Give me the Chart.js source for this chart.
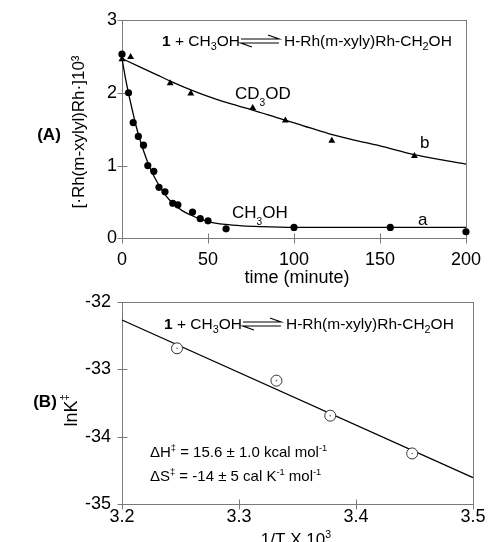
<!DOCTYPE html>
<html>
<head>
<meta charset="utf-8">
<script src="https://cdn.jsdelivr.net/npm/chart.js@4"></script>
<style>
  html, body { margin: 0; padding: 0; background: #fff; }
  #wrap { position: relative; width: 492px; height: 542px; overflow: hidden; }
  canvas { position: absolute; left: 0; }
  #chartA { top: 0; }
  #chartB { top: 280px; }
</style>
</head>
<body>
<div id="wrap">
  <canvas id="chartA" width="492" height="290"></canvas>
  <canvas id="chartB" width="492" height="262"></canvas>
</div>
<script>
// panel A: measured points
const timeCH3OH = [0, 3.8, 6.5, 9.5, 12.5, 15, 18.5, 21.5, 25, 29.5, 32.5, 41, 45.5, 50, 60.5, 100, 156, 200];
const concCH3OH = [2.53, 2.0, 1.59, 1.40, 1.28, 1.0, 0.92, 0.70, 0.64, 0.48, 0.46, 0.36, 0.27, 0.24, 0.13, 0.15, 0.15, 0.09];
const timeCD3OD = [0, 5, 28, 40, 76, 95, 122, 170];
const concCD3OD = [2.46, 2.49, 2.13, 1.99, 1.79, 1.62, 1.34, 1.13];

// panel A: fitted curves
const curveTimeA = [0, 2, 4, 6, 8, 10, 12, 15, 18, 21, 25, 30, 35, 40, 45, 50, 60, 70, 80, 100, 150, 200];
const curveConcA = [2.47, 2.2, 1.97, 1.76, 1.56, 1.39, 1.24, 1.04, 0.88, 0.75, 0.60, 0.47, 0.38, 0.32, 0.27, 0.23, 0.19, 0.17, 0.16, 0.15, 0.15, 0.15];
const curveTimeB = [0, 10, 20, 30, 40, 50, 60, 75, 90, 105, 120, 135, 150, 170, 185, 200];
const curveConcB = [2.47, 2.36, 2.25, 2.14, 2.04, 1.95, 1.87, 1.77, 1.66, 1.55, 1.44, 1.35, 1.27, 1.15, 1.08, 1.02];

// panel B: Eyring plot
const invT = [3.247, 3.332, 3.378, 3.448];
const lnK = [-32.69, -33.17, -33.69, -34.25];
const fitInvT = [3.2, 3.5];
const fitLnK = [-32.27, -34.61];

const xTicksA = [0, 50, 100, 150, 200];
const yTicksA = [0, 1, 2, 3];
const xTicksB = [3.2, 3.3, 3.4, 3.5];
const yTicksB = [-35, -34, -33, -32];

const FONT = "'Liberation Sans', Arial, sans-serif";
const GRAY = "#7a7a7a";
Chart.defaults.font.family = FONT;
Chart.defaults.color = "#000";

const pts = (xs, ys) => xs.map((x, i) => ({ x: x, y: ys[i] }));

// draws a run of text parts: [text, kind] kind = n | sub | sup | b | tiny (low small sub)
function rich(ctx, x, y, parts, size) {
  for (const [t, kind] of parts) {
    let s = size, dy = 0, w = "normal";
    if (kind === "sub") { s = size * 0.7; dy = size * 0.25; }
    if (kind === "tiny") { s = size * 0.6; dy = size * 0.4; }
    if (kind === "sup") { s = size * 0.62; dy = -size * 0.4; }
    if (kind === "b") w = "bold";
    ctx.font = w + " " + s + "px " + FONT;
    ctx.fillText(t, x, y + dy);
    x += ctx.measureText(t).width;
  }
  return x;
}

function equation(ctx, x, y) {
  ctx.fillStyle = "#000";
  ctx.textAlign = "left";
  ctx.textBaseline = "alphabetic";
  let x1 = rich(ctx, x, y, [["1", "b"], [" + CH", "n"], ["3", "sub"], ["OH", "n"]], 15.5);
  const x2 = x1 + 40;
  const yc = y - 5;
  ctx.strokeStyle = "#000";
  ctx.lineWidth = 1.2;
  ctx.beginPath();
  ctx.moveTo(x1 + 1, yc - 2); ctx.lineTo(x2 - 1, yc - 2); ctx.lineTo(x2 - 12, yc - 6);
  ctx.moveTo(x2 - 1, yc + 2); ctx.lineTo(x1 + 1, yc + 2); ctx.lineTo(x1 + 12, yc + 6);
  ctx.stroke();
  rich(ctx, x2 + 4, y, [["H-Rh(m-xyly)Rh-CH", "n"], ["2", "sub"], ["OH", "n"]], 15.5);
}

function frameAndTicks(chart, xTicks, yTicks) {
  const { ctx, chartArea: a, scales } = chart;
  const l = Math.round(a.left) + 0.5, r = Math.round(a.right) + 0.5;
  const t = Math.round(a.top) + 0.5, b = Math.round(a.bottom) + 0.5;
  ctx.save();
  ctx.strokeStyle = GRAY;
  ctx.lineWidth = 1;
  ctx.strokeRect(l, t, r - l, b - t);
  ctx.beginPath();
  for (const v of xTicks) {
    const px = Math.round(scales.x.getPixelForValue(v)) + 0.5;
    ctx.moveTo(px, b - 5); ctx.lineTo(px, b + 5);
  }
  for (const v of yTicks) {
    const py = Math.round(scales.y.getPixelForValue(v)) + 0.5;
    ctx.moveTo(l - 5, py); ctx.lineTo(l + 5, py);
  }
  ctx.stroke();
  ctx.restore();
}

function setTicks(list) {
  return s => { s.ticks = list.map(v => ({ value: v })); };
}

const panelA = {
  id: "panelA",
  beforeDatasetsDraw(chart) { frameAndTicks(chart, xTicksA, yTicksA); },
  afterDraw(chart) {
    const ctx = chart.ctx;
    ctx.save();
    equation(ctx, 162, 46);
    ctx.fillStyle = "#000";
    ctx.textAlign = "left";
    rich(ctx, 235, 99, [["CD", "n"], ["3", "tiny"], ["OD", "n"]], 17);
    rich(ctx, 232, 218, [["CH", "n"], ["3", "tiny"], ["OH", "n"]], 17);
    rich(ctx, 418, 225, [["a", "n"]], 17);
    rich(ctx, 420, 148, [["b", "n"]], 17);
    ctx.font = "bold 17px " + FONT;
    ctx.textAlign = "center";
    ctx.textBaseline = "middle";
    ctx.fillText("(A)", 49, 135);
    ctx.font = "18px " + FONT;
    ctx.fillText("time (minute)", 297, 278);
    ctx.translate(79, 132);
    ctx.rotate(-Math.PI / 2);
    ctx.font = "17px " + FONT;
    ctx.fillText("[·Rh(m-xylyl)Rh·]10³", 0, 0);
    ctx.restore();
  }
};

const panelB = {
  id: "panelB",
  beforeDatasetsDraw(chart) { frameAndTicks(chart, xTicksB, yTicksB); },
  afterDraw(chart) {
    const ctx = chart.ctx;
    const off = 280;
    ctx.save();
    equation(ctx, 164, 329 - off);
    ctx.fillStyle = "#000";
    ctx.textAlign = "left";
    rich(ctx, 150, 457 - off, [["ΔH", "n"], ["‡", "sup"], [" = 15.6 ± 1.0 kcal mol", "n"], ["-1", "sup"]], 15);
    rich(ctx, 150, 481 - off, [["ΔS", "n"], ["‡", "sup"], [" = -14 ± 5 cal K", "n"], ["-1", "sup"], [" mol", "n"], ["-1", "sup"]], 15);
    ctx.textAlign = "left";
    ctx.textBaseline = "alphabetic";
    const tw = (() => { ctx.font = "17px " + FONT; return ctx.measureText("1/T X 10").width + 8; })();
    rich(ctx, 297 - tw / 2, 545 - off, [["1/T X 10", "n"], ["3", "sup"]], 17);
    ctx.font = "bold 17px " + FONT;
    ctx.textAlign = "center";
    ctx.textBaseline = "middle";
    ctx.fillText("(B)", 45, 402 - off);
    ctx.translate(72, 410 - off);
    ctx.rotate(-Math.PI / 2);
    ctx.textAlign = "left";
    ctx.textBaseline = "middle";
    ctx.font = "18px " + FONT;
    const w = ctx.measureText("lnK").width + 7;
    rich(ctx, -w / 2, 0, [["lnK", "n"], ["‡", "sup"]], 18);
    ctx.restore();
  }
};

const lineStyle = { showLine: true, pointRadius: 0, borderColor: "#000", borderWidth: 1.3, tension: 0.4, cubicInterpolationMode: "monotone", order: 2 };
const noGrid = { display: false, drawTicks: false };

new Chart(document.getElementById("chartA"), {
  type: "scatter",
  data: {
    datasets: [
      { data: pts(timeCH3OH, concCH3OH), pointStyle: "circle", pointRadius: 3.6, backgroundColor: "#000", borderColor: "#000", borderWidth: 0, order: 0 },
      { data: pts(timeCD3OD, concCD3OD), pointStyle: "triangle", pointRadius: 4, backgroundColor: "#000", borderColor: "#000", borderWidth: 0, order: 0 },
      Object.assign({ data: pts(curveTimeA, curveConcA) }, lineStyle),
      Object.assign({ data: pts(curveTimeB, curveConcB) }, lineStyle)
    ]
  },
  options: {
    responsive: false,
    animation: false,
    devicePixelRatio: 1,
    clip: false,
    layout: { padding: { top: 20, right: 19.5, left: 0, bottom: 0 } },
    plugins: { legend: { display: false }, tooltip: { enabled: false } },
    scales: {
      x: {
        type: "linear", min: 0, max: 200,
        afterBuildTicks: setTicks(xTicksA),
        afterFit: s => { s.height = 51.7; },
        grid: noGrid, border: { display: false },
        ticks: { padding: 11, font: { size: 18 }, color: "#000" }
      },
      y: {
        type: "linear", min: 0, max: 3,
        afterBuildTicks: setTicks(yTicksA),
        afterFit: s => { s.width = 122; },
        grid: noGrid, border: { display: false },
        ticks: { padding: 5, font: { size: 18 }, color: "#000" }
      }
    }
  },
  plugins: [panelA]
});

new Chart(document.getElementById("chartB"), {
  type: "scatter",
  data: {
    datasets: [
      { data: pts(invT, lnK), pointStyle: "circle", pointRadius: 0.8, backgroundColor: "#666", borderWidth: 0, order: 0 },
      { data: pts(invT, lnK), pointStyle: "circle", pointRadius: 5.5, backgroundColor: "#fff", borderColor: "#333", borderWidth: 1, order: 1 },
      Object.assign({ data: pts(fitInvT, fitLnK) }, lineStyle, { tension: 0 })
    ]
  },
  options: {
    responsive: false,
    animation: false,
    devicePixelRatio: 1,
    clip: false,
    layout: { padding: { top: 19.5, right: 19, left: 0, bottom: 0 } },
    plugins: { legend: { display: false }, tooltip: { enabled: false } },
    scales: {
      x: {
        type: "linear", min: 3.2, max: 3.5,
        afterBuildTicks: setTicks(xTicksB),
        afterFit: s => { s.height = 38; },
        grid: noGrid, border: { display: false },
        ticks: { padding: 2, font: { size: 18 }, color: "#000", callback: v => v.toFixed(1) }
      },
      y: {
        type: "linear", min: -35, max: -32,
        afterBuildTicks: setTicks(yTicksB),
        afterFit: s => { s.width = 122; },
        grid: noGrid, border: { display: false },
        ticks: { padding: 11, font: { size: 18 }, color: "#000", callback: v => String(v) }
      }
    }
  },
  plugins: [panelB]
});
</script>
</body>
</html>
